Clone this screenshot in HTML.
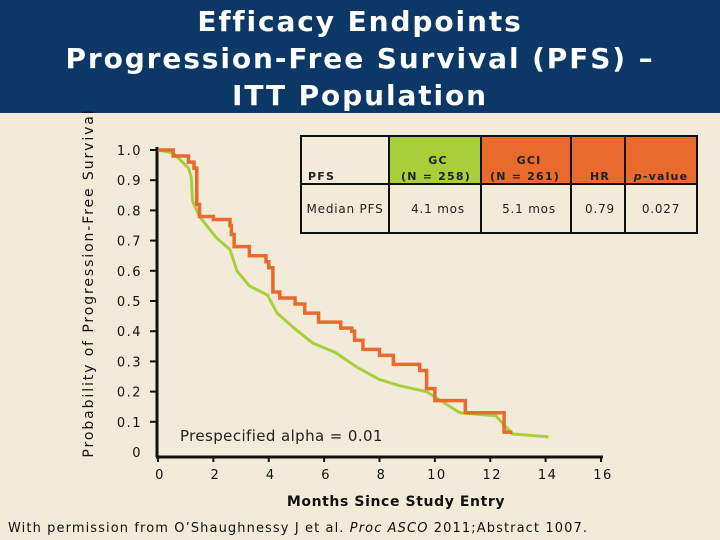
<!DOCTYPE html>
<html><head><meta charset="utf-8">
<style>
body{margin:0;width:720px;height:540px;overflow:hidden;background:#F2EBDA;font-family:"DejaVu Sans","Liberation Sans",sans-serif;}
#hdr{position:absolute;left:0;top:0;width:720px;height:113px;background:#0B3866;color:#fff;text-align:center;font-weight:bold;font-size:28px;line-height:37px;padding-top:3px;box-sizing:border-box;letter-spacing:1.9px;}
svg{position:absolute;left:0;top:0}
</style></head><body>
<div id="hdr">Efficacy Endpoints<br>Progression-Free Survival (PFS) –<br>ITT Population</div>
<svg width="720" height="540">
<g id="axes"></g><g id="series"></g>
<g font-size="12" fill="#222" letter-spacing="0.8">
<rect x="389" y="136" width="92" height="48" fill="#A8CF3A"/>
<rect x="481" y="136" width="216" height="48" fill="#E86A2C"/>
<rect x="301" y="136" width="396" height="97" fill="none" stroke="#111" stroke-width="2"/>
<line x1="301" y1="184" x2="697" y2="184" stroke="#111" stroke-width="2"/>
<line x1="389" y1="136" x2="389" y2="233" stroke="#111" stroke-width="2"/>
<line x1="481" y1="136" x2="481" y2="233" stroke="#111" stroke-width="2"/>
<line x1="571" y1="136" x2="571" y2="233" stroke="#111" stroke-width="2"/>
<line x1="625" y1="136" x2="625" y2="233" stroke="#111" stroke-width="2"/>
<g font-weight="bold" font-size="11" letter-spacing="1.2">
<text x="308" y="180">PFS</text>
<text x="438" y="164" text-anchor="middle">GC</text>
<text x="436" y="180" text-anchor="middle">(N = 258)</text>
<text x="529" y="164" text-anchor="middle">GCI</text>
<text x="525" y="180" text-anchor="middle">(N = 261)</text>
<text x="600" y="180" text-anchor="middle">HR</text>
<text x="661" y="180" text-anchor="middle"><tspan font-style="italic">p</tspan>-value</text>
</g>
<text x="345" y="213" text-anchor="middle">Median PFS</text>
<text x="438" y="213" text-anchor="middle">4.1 mos</text>
<text x="529" y="213" text-anchor="middle">5.1 mos</text>
<text x="600" y="213" text-anchor="middle">0.79</text>
<text x="661" y="213" text-anchor="middle">0.027</text>
</g>
<text x="180" y="441" font-size="15" letter-spacing="0.4" fill="#222">Prespecified alpha = 0.01</text>
<text x="396" y="506" font-size="14" font-weight="bold" letter-spacing="0.6" text-anchor="middle" fill="#111">Months Since Study Entry</text>
<text transform="translate(93,283) rotate(-90)" font-size="14" letter-spacing="1.9" text-anchor="middle" fill="#111">Probability of Progression-Free Survival</text>
<text x="8" y="532" font-size="13" letter-spacing="1.1" fill="#111">With permission from O’Shaughnessy J et al. <tspan font-style="italic">Proc ASCO</tspan> 2011;Abstract 1007.</text>
</svg>
<script>
const xTicks=[0,2,4,6,8,10,12,14,16];
const yTicks=[0,0.1,0.2,0.3,0.4,0.5,0.6,0.7,0.8,0.9,1.0];
const yTickLabels=["0","0.1","0.2","0.3","0.4","0.5","0.6","0.7","0.8","0.9","1.0"];
const gciMonths=[0,0.55,1.1,1.3,1.4,1.5,2.0,2.6,2.65,2.75,3.3,3.9,4.0,4.15,4.4,4.95,5.3,5.8,6.6,7.0,7.1,7.4,8.0,8.5,9.45,9.7,10.0,11.0,11.1,12.5,12.5,12.8];
const gciSurv=[1.0,0.98,0.96,0.94,0.82,0.78,0.77,0.75,0.72,0.68,0.65,0.63,0.61,0.53,0.51,0.49,0.46,0.43,0.41,0.40,0.37,0.34,0.32,0.29,0.27,0.21,0.17,0.17,0.13,0.13,0.066,0.066];
const gcMonths=[0,0.55,1.1,1.2,1.25,1.5,2.1,2.6,2.85,3.3,3.95,4.3,5.05,5.6,6.4,7.2,8.0,8.7,9.7,10.9,12.2,12.8,14.1];
const gcSurv=[1.0,0.99,0.94,0.91,0.83,0.78,0.71,0.67,0.60,0.55,0.52,0.46,0.40,0.36,0.33,0.28,0.24,0.22,0.20,0.13,0.12,0.06,0.05];
const X=m=>158+m*(601-158)/16, Y=p=>452-p*302;
const NS="http://www.w3.org/2000/svg";
const ax=document.getElementById('axes'), se=document.getElementById('series');
function mk(t,a,p){const e=document.createElementNS(NS,t);for(const k in a)e.setAttribute(k,a[k]);p.appendChild(e);return e;}
const yl=mk('line',{x1:157,y1:147,x2:157,y2:457,stroke:'#111','stroke-width':3},ax);


const xl=mk('line',{x1:156,y1:457,x2:603,y2:457,stroke:'#111','stroke-width':3},ax);


yTicks.forEach((v,i)=>{const y=v===0?452:Y(v);
 if(v>0)mk('line',{x1:150,y1:y,x2:157,y2:y,stroke:'#111','stroke-width':2},ax);
 const t=mk('text',{x:142,y:y+5,'text-anchor':'end','font-size':13,'letter-spacing':1.5,fill:'#111'},ax);t.textContent=yTickLabels[i];
 
 });
xTicks.forEach(v=>{const x=X(v);mk('line',{x1:x,y1:457,x2:x,y2:462,stroke:'#111','stroke-width':2},ax);
 const t=mk('text',{x:x+2,y:479,'text-anchor':'middle','font-size':13,'letter-spacing':1.5,fill:'#111'},ax);t.textContent=String(v);
 
 });
function stepPath(ms,ss){let d='M'+X(ms[0])+','+Y(ss[0]);for(let i=1;i<ms.length;i++){d+=' H'+X(ms[i])+' V'+Y(ss[i]);}return d;}
function linePath(ms,ss){return ms.map((m,i)=>(i?'L':'M')+X(m)+','+Y(ss[i])).join(' ');}
const g=mk('path',{d:linePath(gcMonths,gcSurv),fill:'none',stroke:'#A8CF3A','stroke-width':3,'stroke-linejoin':'round'},se);


const o=mk('path',{d:stepPath(gciMonths,gciSurv),fill:'none',stroke:'#E86A2C','stroke-width':3.5},se);


</script>
</body></html>
